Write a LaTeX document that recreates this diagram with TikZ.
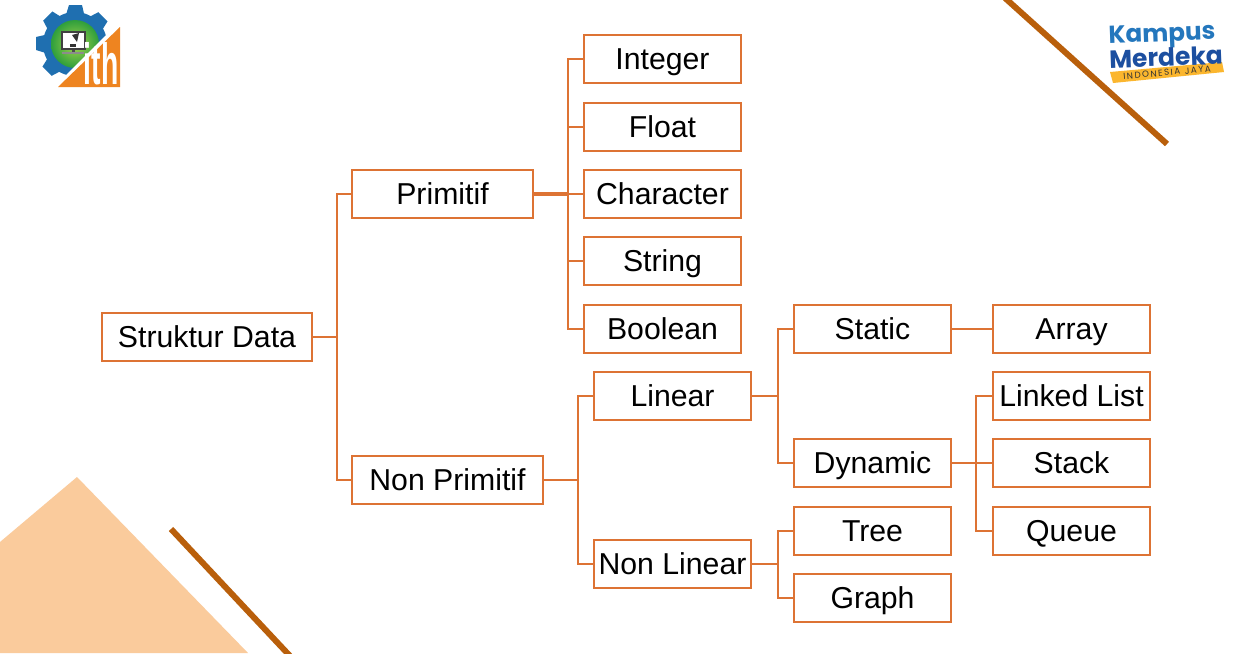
\documentclass[tikz,border=0pt]{standalone}
\usepackage{fontspec}
\setmainfont{Liberation Sans}
\newfontfamily\logofont{Poppins}
\tikzset{
  databox/.style={draw=boxline,line width=1.55pt,fill=white,inner sep=0pt,minimum height=0.96cm,
    minimum width=#1*0.02cm,text height=16.3pt,text depth=4pt,font=\fontsize{17.2pt}{20pt}\selectfont},
  link/.style={draw=boxline,line width=1.55pt},
  slash/.style={draw=slashbrown,line width=3.4pt}
}
\definecolor{boxline}{HTML}{DD7334}
\definecolor{slashbrown}{HTML}{B95F0B}
\definecolor{peach}{HTML}{FACB9C}
\definecolor{gearblue}{HTML}{1F6FB0}
\definecolor{ithorange}{HTML}{EE8420}
\definecolor{kmblue}{HTML}{2477BD}
\definecolor{kmdark}{HTML}{1C4FA0}
\definecolor{kmyellow}{HTML}{FBB62E}
\definecolor{gearlime}{HTML}{A6D64A}
\definecolor{geargreen}{HTML}{2E9E3C}
\begin{document}
\begin{tikzpicture}[x=0.02cm,y=-0.02cm]
      \clip (0,0) rectangle (1246,653);
      \fill[white] (0,0) rectangle (1246,653);
      \fill[peach] (0,542) -- (77,477) -- (248,653) -- (0,653) -- cycle;
      \draw[slash] (171,529) -- (290,656);
      \draw[slash] (1005,-2) -- (1167,144);
      % gear logo
      \fill[gearblue] (75,44) circle (32);
      \foreach \a in {0,45,...,315} {
        \fill[gearblue,rotate around={\a:(75,44)}] (69,5) -- (82,5) -- (85,18) -- (65,18) -- cycle;
      }
      \shade[inner color=gearlime,outer color=geargreen] (75,44) circle (24);
      \fill[white] (46,95) -- (125,16) -- (125,95) -- cycle;
      \fill[black!75] (61,31) rectangle (86,50);
      \fill[white] (63,33) rectangle (84,48);
      \fill[black!80] (72,35) -- (79,33) -- (77,42) -- cycle;
      \fill[black!80] (70,44) rectangle (76,47);
      \fill[black!70] (72,50) rectangle (75,53);
      \fill[black!45] (62,52) rectangle (84,54);
      \fill[ithorange] (58,87) -- (120,27) -- (120,87) -- cycle;
      \node[anchor=south,text=white,inner sep=0pt,font=\bfseries\fontsize{26pt}{26pt}\selectfont,xscale=0.62,yscale=1.27] (ith) at (101,85) {ith};
      % kampus merdeka logo
      \fill[kmyellow] (1110,72) -- (1222,62) -- (1224,72) -- (1113,83) -- cycle;
      \node[rotate=5,inner sep=0pt,font=\logofont\fontsize{5pt}{5pt}\selectfont,text=black!80] (jaya) at (1167,72.5) {I\,N\,D\,O\,N\,E\,S\,I\,A\ \ J\,A\,Y\,A};
      \node[rotate=2,inner sep=0pt,font=\logofont\bfseries\fontsize{14pt}{14pt}\selectfont,text=kmblue] (kampus) at (1162,36) {Kampus};
      \node[rotate=2,inner sep=0pt,font=\logofont\bfseries\fontsize{14.2pt}{14pt}\selectfont,text=kmdark] (merdeka) at (1166,57) {Merdeka};
      % tree
      \node[databox=210] (root) at (207,337) {Struktur Data};
      \node[databox=181] (prim) at (442.5,194) {Primitif};
      \node[databox=191] (nonprim) at (447.5,480) {Non Primitif};
      \node[databox=157] (integer) at (662.5,59) {Integer};
      \node[databox=157] (float) at (662.5,127) {Float};
      \node[databox=157] (character) at (662.5,194) {Character};
      \node[databox=157] (string) at (662.5,261) {String};
      \node[databox=157] (boolean) at (662.5,329) {Boolean};
      \node[databox=157] (linear) at (672.5,396) {Linear};
      \node[databox=157] (nonlinear) at (672.5,564) {Non Linear};
      \node[databox=157] (static) at (872.5,329) {Static};
      \node[databox=157] (dynamic) at (872.5,463) {Dynamic};
      \node[databox=157] (tree) at (872.5,531) {Tree};
      \node[databox=157] (graph) at (872.5,598) {Graph};
      \node[databox=157] (array) at (1071.5,329) {Array};
      \node[databox=157] (linked) at (1071.5,396) {Linked List};
      \node[databox=157] (stack) at (1071.5,463) {Stack};
      \node[databox=157] (queue) at (1071.5,531) {Queue};
      \coordinate (busroot) at (337,337);
      \coordinate (busprim) at (568,194);
      \coordinate (busnon) at (578,480);
      \coordinate (buslinear) at (778,396);
      \coordinate (busnl) at (778,564);
      \coordinate (busdyn) at (976,463);
      \draw[link] (root.east) -- (busroot);
      \foreach \n in {prim,nonprim} \draw[link] (busroot) |- (\n.west);
      \draw[link,line width=1.9pt] (prim.east) -- (busprim);
      \foreach \n in {integer,float,character,string,boolean} \draw[link] (busprim) |- (\n.west);
      \draw[link] (nonprim.east) -- (busnon);
      \foreach \n in {linear,nonlinear} \draw[link] (busnon) |- (\n.west);
      \draw[link] (linear.east) -- (buslinear);
      \foreach \n in {static,dynamic} \draw[link] (buslinear) |- (\n.west);
      \draw[link] (nonlinear.east) -- (busnl);
      \foreach \n in {tree,graph} \draw[link] (busnl) |- (\n.west);
      \draw[link] (static) -- (array);
      \draw[link] (dynamic.east) -- (busdyn);
      \foreach \n in {linked,stack,queue} \draw[link] (busdyn) |- (\n.west);
\end{tikzpicture}
\end{document}
